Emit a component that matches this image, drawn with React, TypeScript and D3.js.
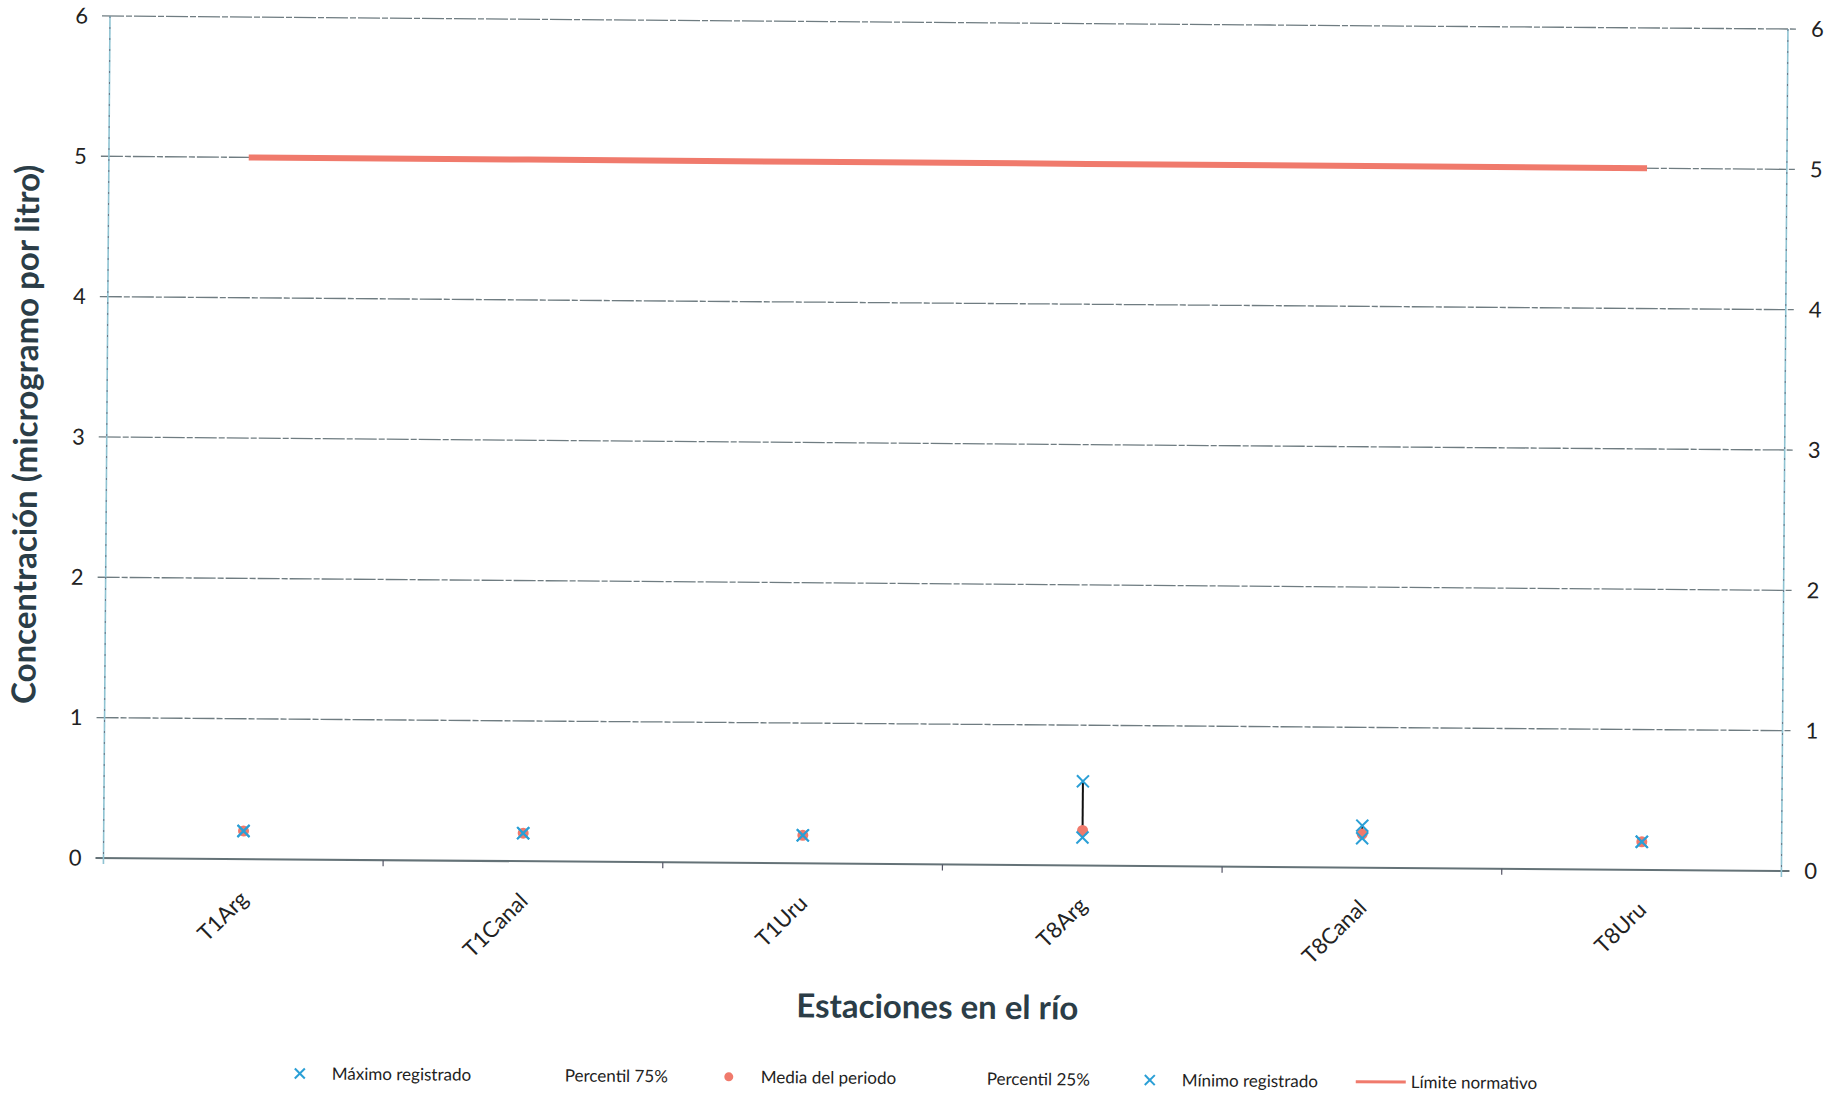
import React from 'react';
import * as d3 from 'd3';

const categories = ['T1Arg', 'T1Canal', 'T1Uru', 'T8Arg', 'T8Canal', 'T8Uru'];
const maximo = [0.2, 0.2, 0.2, 0.6, 0.3, 0.2];
const percentil75 = [0.2, 0.2, 0.2, 0.26, 0.25, 0.2];
const media = [0.2, 0.2, 0.2, 0.25, 0.24, 0.2];
const percentil25 = [0.2, 0.2, 0.2, 0.2, 0.21, 0.2];
const minimo = [0.2, 0.2, 0.2, 0.2, 0.21, 0.2];
const limite = [5, 5, 5, 5, 5, 5];
const yTicks = [0, 1, 2, 3, 4, 5, 6];
const legendItems = [
  { label: 'Máximo registrado', kind: 'x' },
  { label: 'Percentil 75%', kind: 'none' },
  { label: 'Media del periodo', kind: 'dot' },
  { label: 'Percentil 25%', kind: 'none' },
  { label: 'Mínimo registrado', kind: 'x' },
  { label: 'Límite normativo', kind: 'line' },
];
const legendX = [308, 573, 737, 995, 1158, 1372];

const W = 1841, H = 1096;
const X0 = 110, Y0 = 16, PW = 1678, PH = 842;
const BLUE = '#2a9fd6';
const SALMON = '#f07a6c';
const FONT = 'Lato, "Open Sans", sans-serif';

function XMark({ x, y, s = 6, color = BLUE }: { x: number; y: number; s?: number; color?: string }) {
  return (
    <g stroke={color} strokeWidth={2}>
      <line x1={x - s} y1={y - s} x2={x + s} y2={y + s} />
      <line x1={x - s} y1={y + s} x2={x + s} y2={y - s} />
    </g>
  );
}

export default function App() {
  const x = d3.scaleBand<string>().domain(categories).range([X0, X0 + PW]).padding(0);
  const y = d3.scaleLinear().domain([0, 6]).range([Y0 + PH, Y0]);
  const cx = (c: string) => (x(c) as number) + x.bandwidth() / 2;
  const limitLine = d3.line<number>().x((_, i) => cx(categories[i])).y((d) => y(d));
  const bounds = categories.map((c) => x(c) as number).slice(1);
  const angle = 0.444;

  return (
    <svg width={W} height={H} style={{ position: 'absolute', left: 0, top: 0, background: '#fff' }}>
      <rect width={W} height={H} fill="#fff" />
      <g transform={`rotate(${angle}, ${X0}, ${Y0})`}>
        {/* gridlines */}
        {yTicks.map((t) => (
          <line key={'g' + t} x1={X0 - 8} x2={X0 + PW + 8} y1={y(t)} y2={y(t)}
            stroke={t === 0 ? '#4a5a60' : '#56666c'} strokeWidth={t === 0 ? 2 : 1.3} strokeDasharray={t === 0 ? '' : '22 2 6 2'} opacity={0.85} />
        ))}
        {/* axes */}
        <line x1={X0} x2={X0} y1={Y0} y2={Y0 + PH + 6} stroke="#8fc3d2" strokeWidth={1.6} />
        <line x1={X0 + PW} x2={X0 + PW} y1={Y0} y2={Y0 + PH + 6} stroke="#8fc3d2" strokeWidth={1.6} />
        <line x1={X0} x2={X0} y1={Y0} y2={Y0 + PH} stroke="#556" strokeWidth={1} strokeDasharray="2 9" opacity={0.7} />
        <line x1={X0 + PW} x2={X0 + PW} y1={Y0} y2={Y0 + PH} stroke="#556" strokeWidth={1} strokeDasharray="2 9" opacity={0.7} />
        {bounds.map((b, i) => (
          <line key={'t' + i} x1={b} x2={b} y1={Y0 + PH} y2={Y0 + PH + 6} stroke="#556" strokeWidth={1.2} />
        ))}
        {/* y tick labels */}
        {yTicks.map((t) => (
          <text key={'l' + t} x={X0 - 22} y={y(t)} dy="0.35em" textAnchor="end" fontSize={22} fontFamily={FONT} fill="#222">{t}</text>
        ))}
        {yTicks.map((t) => (
          <text key={'r' + t} x={X0 + PW + 23} y={y(t)} dy="0.35em" textAnchor="start" fontSize={22} fontFamily={FONT} fill="#222">{t}</text>
        ))}
        {/* category labels */}
        {categories.map((c) => (
          <text key={'c' + c} transform={`translate(${cx(c) + 1}, ${Y0 + PH + 36}) rotate(-45)`} textAnchor="end" dy="0.35em"
            fontSize={22} fontFamily={FONT} fill="#222">{c}</text>
        ))}
        {/* limit line */}
        <path d={limitLine(limite) || ''} fill="none" stroke={SALMON} strokeWidth={6} />
        {/* high-low lines */}
        {categories.map((c, i) => (
          <line key={'hl' + c} x1={cx(c)} x2={cx(c)} y1={y(maximo[i])} y2={y(minimo[i])} stroke="#111" strokeWidth={2} />
        ))}
        {/* markers */}
        {categories.map((c, i) => (
          <g key={'m' + c}>
            <circle cx={cx(c)} cy={y(media[i])} r={5.5} fill={SALMON} />
            <XMark x={cx(c)} y={y(maximo[i])} />
            <XMark x={cx(c)} y={y(minimo[i])} />
          </g>
        ))}
        {/* axis titles */}
        <text transform={`translate(29, ${435}) rotate(-90)`} textAnchor="middle" dy="0.35em" fontSize={33} fontWeight="bold"
          fontFamily={FONT} fill="#2b3d47">Concentración (microgramo por litro)</text>
        <text x={945} y={1012} textAnchor="middle" fontSize={33} fontWeight="bold" fontFamily={FONT} fill="#2b3d47">Estaciones en el río</text>
        {/* legend */}
        {legendItems.map((it, i) => {
          const lx = legendX[i];
          const ly = 1072;
          return (
            <g key={'lg' + i}>
              {it.kind === 'x' && <XMark x={lx} y={ly} s={5} />}
              {it.kind === 'dot' && <circle cx={lx} cy={ly} r={4.5} fill={SALMON} />}
              {it.kind === 'line' && <line x1={lx - 8} x2={lx + 42} y1={ly} y2={ly} stroke={SALMON} strokeWidth={3} />}
              <text x={it.kind === 'line' ? lx + 47 : it.kind === 'none' ? lx : lx + 32} y={ly} dy="0.35em" fontSize={17} fontFamily={FONT} fill="#222">{it.label}</text>
            </g>
          );
        })}
      </g>
    </svg>
  );
}
